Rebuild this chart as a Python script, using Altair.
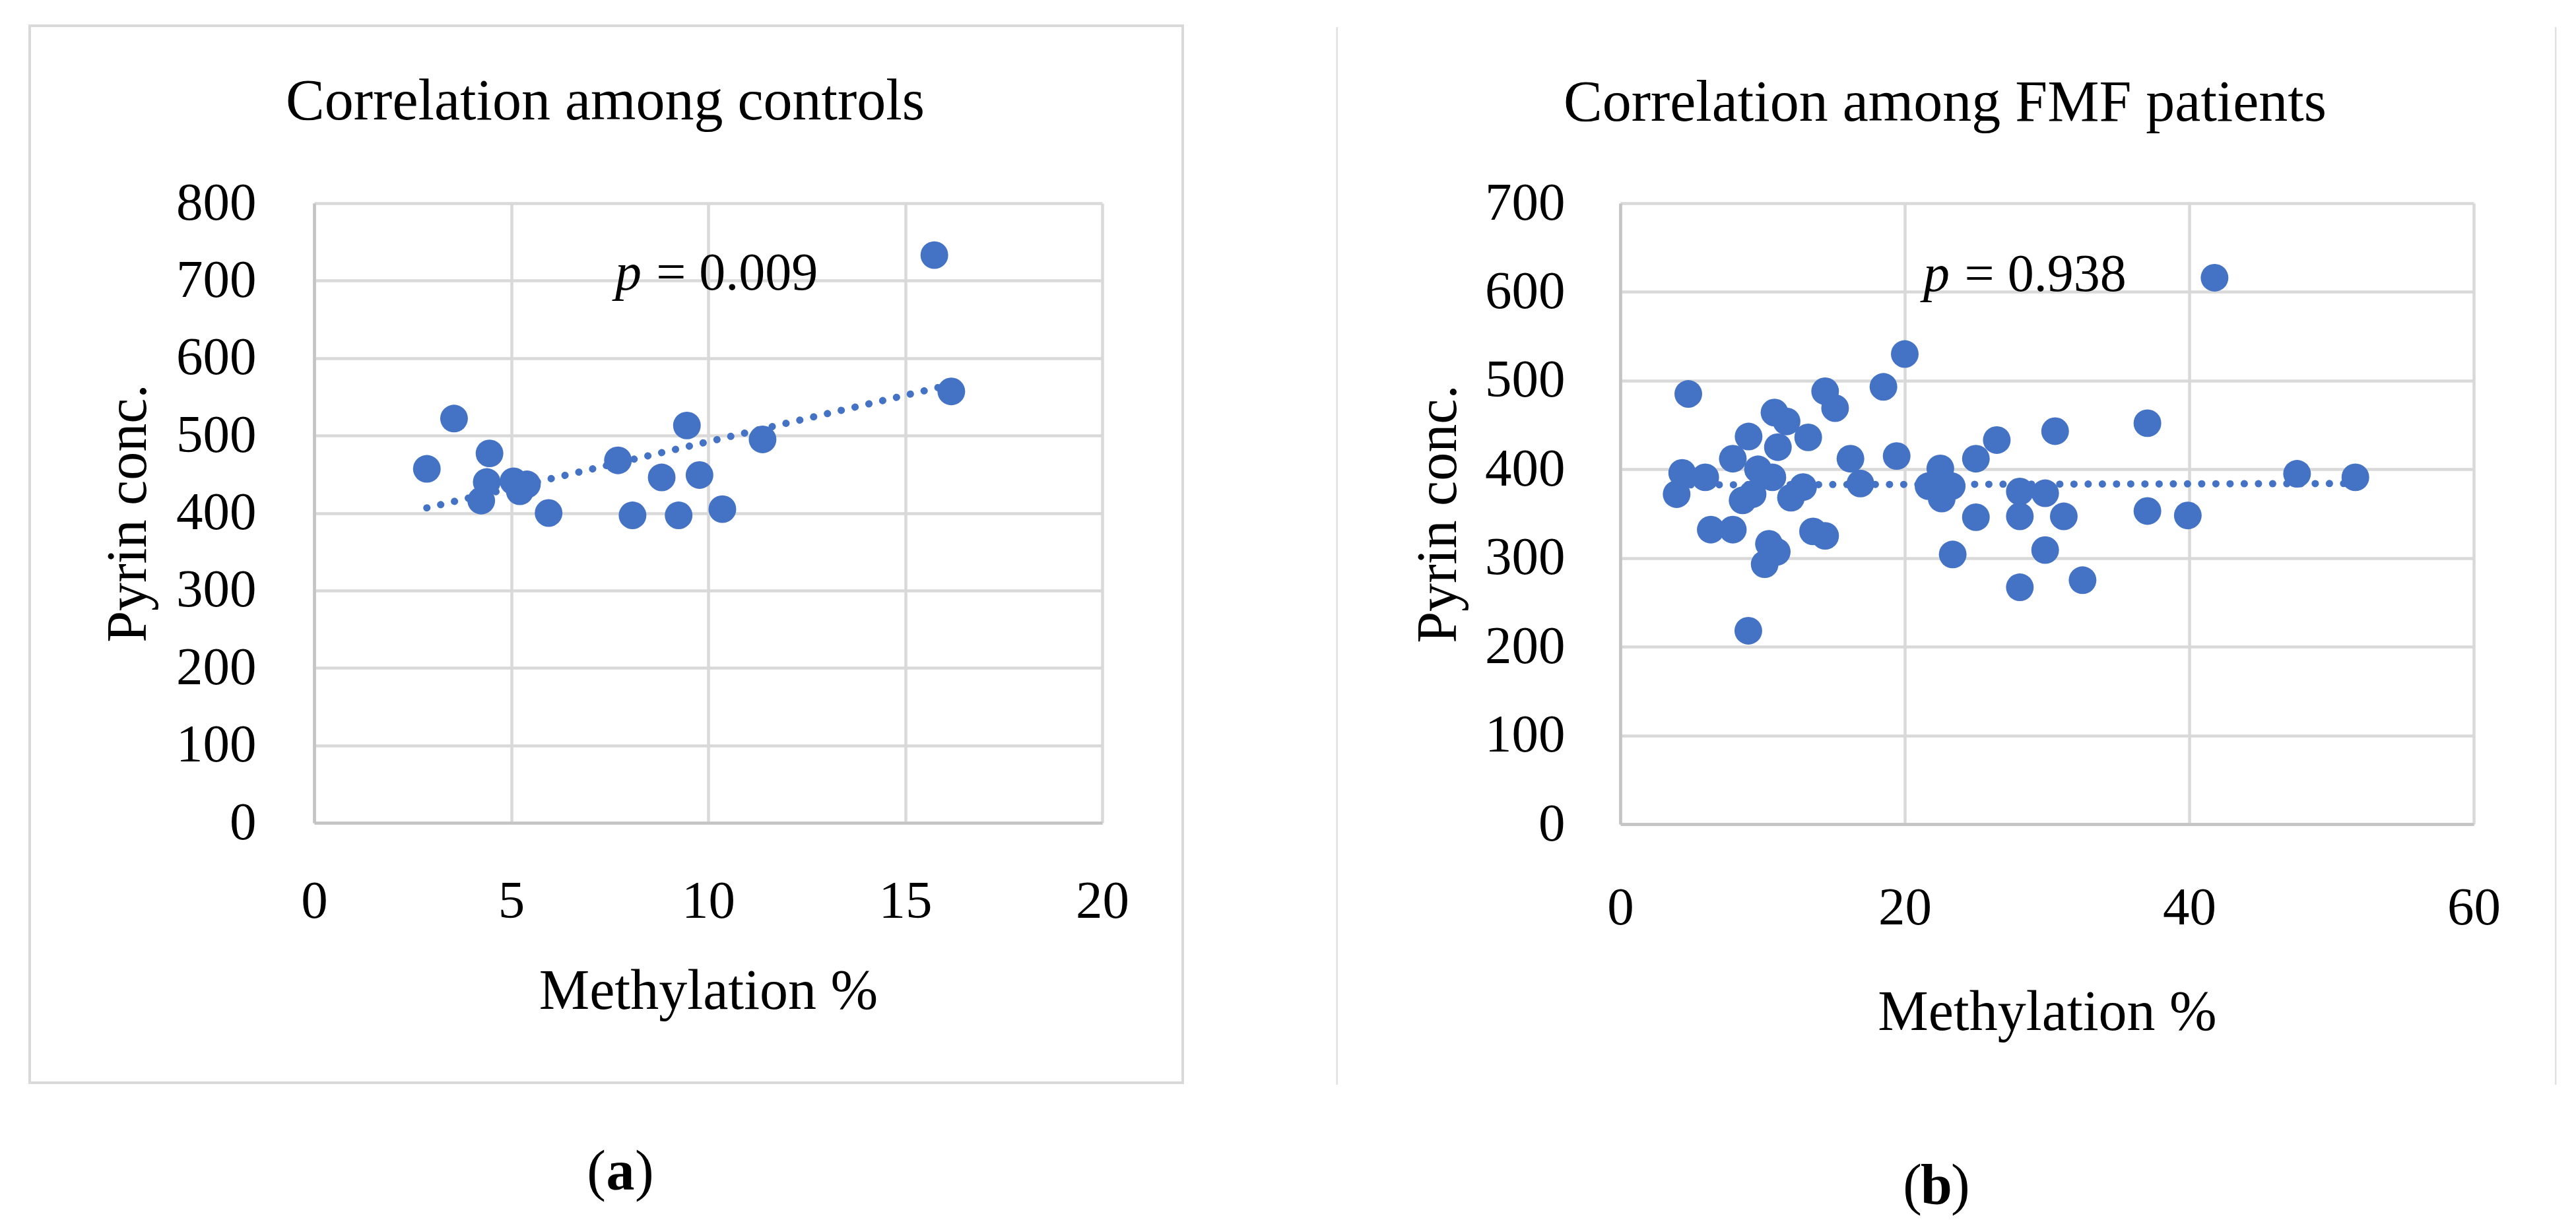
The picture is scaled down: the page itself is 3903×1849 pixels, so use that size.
import altair as alt
import pandas as pd

# ---------------- data ----------------
# (a) controls
ctrl_methylation = [2.86, 3.55, 4.45, 4.38, 4.24, 5.06, 5.22, 5.40, 5.95, 7.71,
                    8.08, 8.82, 9.46, 9.78, 9.25, 10.36, 11.38, 15.74, 16.17]
ctrl_pyrin = [457, 522, 477, 440, 416, 441, 428, 437, 400, 468,
              397, 446, 513, 449, 397, 405, 495, 733, 557]
ctrl_trend_x = [2.86, 16.17]
ctrl_trend_y = [406.6, 566.0]

# (b) FMF patients
fmf_methylation = [3.96, 4.35, 4.78, 5.97, 6.36, 7.91, 7.91, 9.02, 9.68, 10.69,
                   8.6, 9.3, 9.0, 10.15, 10.45, 11.0, 10.84, 11.69, 11.08, 12.0,
                   12.85, 13.21, 13.55, 14.4, 14.4, 15.1, 16.18, 16.88, 18.5, 19.43,
                   20.0, 21.67, 22.5, 22.5, 23.3, 22.6, 23.37, 25.0, 25.0, 26.47,
                   28.09, 28.09, 28.09, 29.87, 29.87, 31.18, 30.57, 32.5, 37.06, 37.06,
                   39.9, 41.78, 47.58, 51.68]
fmf_pyrin = [372, 396, 485, 391, 332, 332, 412, 437, 400, 391,
             365, 372, 218, 293, 316, 307, 464, 454, 425, 368,
             380, 436, 330, 325, 488, 469, 412, 384, 493, 415,
             530, 381, 401, 388, 381, 367, 304, 412, 346, 433,
             375, 347, 267, 373, 309, 347, 443, 275, 452, 353,
             348, 616, 395, 391]
fmf_trend_x = [3.96, 51.68]
fmf_trend_y = [382.5, 384.0]

x_ticks_a = [0, 5, 10, 15, 20]
y_ticks_a = [0, 100, 200, 300, 400, 500, 600, 700, 800]
x_ticks_b = [0, 20, 40, 60]
y_ticks_b = [0, 100, 200, 300, 400, 500, 600, 700]

title_a = "Correlation among controls"
title_b = "Correlation among FMF patients"
p_text_a = "= 0.009"
p_text_b = "= 0.938"
x_title = "Methylation %"
y_title = "Pyrin conc."

# ---------------- styling ----------------
BLUE = "#4472C4"
FONT = "Liberation Serif"
ONE = alt.Data(values=[{}])


def text_layer(txt, x, y, size, align="center", weight="normal", style="normal"):
    return alt.Chart(ONE).mark_text(
        text=txt, font=FONT, fontSize=size, align=align, baseline="alphabetic",
        fontWeight=weight, fontStyle=style, color="black"
    ).encode(x=alt.value(x), y=alt.value(y))


def make_panel(meth, pyr, trx, tr_y, xticks, yticks, W, H,
               ttl, ttl_cx, ttl_by, ptxt, p_x, eq_x, p_y,
               letter, let_cx, let_by, xlab_pad, ylab_pad,
               xtitle_y, ytitle_x, frame, guard_y):
    xscale = alt.Scale(domain=[xticks[0], xticks[-1]], nice=False, zero=False)
    yscale = alt.Scale(domain=[yticks[0], yticks[-1]], nice=False)
    xaxis = alt.Axis(values=xticks, format="d", title=x_title, grid=True, ticks=False,
                     labelFlush=False, labelOverlap=False, labelPadding=xlab_pad,
                     titleX=W / 2, titleY=xtitle_y, titleAlign="center",
                     titleBaseline="alphabetic")
    yaxis = alt.Axis(values=yticks, format="d", title=y_title, grid=True, ticks=False,
                     labelOverlap=False, labelPadding=ylab_pad,
                     titleX=ytitle_x, titleY=H / 2, titleAngle=270,
                     titleAlign="center", titleBaseline="alphabetic")

    pts = pd.DataFrame({"m": meth, "p": pyr})
    trd = pd.DataFrame({"m": trx, "p": tr_y})

    trend = alt.Chart(trd).mark_line(
        color=BLUE, strokeWidth=11, strokeDash=[0.1, 21.4], strokeCap="round"
    ).encode(x=alt.X("m:Q", scale=xscale, axis=xaxis),
             y=alt.Y("p:Q", scale=yscale, axis=yaxis))

    points = alt.Chart(pts).mark_circle(size=1760, color=BLUE, opacity=1).encode(
        x=alt.X("m:Q", scale=xscale, axis=xaxis),
        y=alt.Y("p:Q", scale=yscale, axis=yaxis))

    p_italic = alt.Chart(ONE).mark_text(
        text="p", font=FONT, fontSize=80, fontStyle="italic", align="left",
        baseline="alphabetic", color="black"
    ).encode(x=alt.datum(p_x), y=alt.datum(p_y))
    p_rest = alt.Chart(ONE).mark_text(
        text=ptxt, font=FONT, fontSize=80, align="left",
        baseline="alphabetic", color="black"
    ).encode(x=alt.datum(eq_x), y=alt.datum(p_y))

    guard = alt.Chart(ONE).mark_rule(opacity=0, strokeWidth=1).encode(
        x=alt.value(0), x2=alt.value(10), y=alt.value(guard_y))

    layers = frame + [
        guard, trend, points, p_italic, p_rest,
        text_layer(ttl, ttl_cx, ttl_by, 88),
        text_layer("(", let_cx - 22, let_by, 86, align="right"),
        text_layer(letter, let_cx, let_by, 86, weight="bold"),
        text_layer(")", let_cx + 22, let_by, 86, align="left"),
    ]
    return alt.layer(*layers).properties(width=W, height=H)


# frame of panel (a): full light-gray box
frame_a = [alt.Chart(ONE).mark_rect(
    fillOpacity=0, stroke="#d9d9d9", strokeWidth=4
).encode(x=alt.value(-431), x2=alt.value(1316), y=alt.value(-269), y2=alt.value(1333))]

# frame of panel (b): two thin vertical lines
frame_b = [
    alt.Chart(ONE).mark_rule(color="#e0e0e0", strokeWidth=2.5).encode(
        x=alt.value(-429.3), y=alt.value(-267), y2=alt.value(1336)),
    alt.Chart(ONE).mark_rule(color="#e0e0e0", strokeWidth=2.5).encode(
        x=alt.value(1417.2), y=alt.value(-267), y2=alt.value(1336)),
]

panel_a = make_panel(ctrl_methylation, ctrl_pyrin, ctrl_trend_x, ctrl_trend_y,
                     x_ticks_a, y_ticks_a, 1194, 939,
                     title_a, 441, -127, p_text_a, 7.64, 8.68, 688,
                     "a", 464, 1495, 79, 88, 281, -256, frame_a, -294)

panel_b = make_panel(fmf_methylation, fmf_pyrin, fmf_trend_x, fmf_trend_y,
                     x_ticks_b, y_ticks_b, 1293, 941,
                     title_b, 492, -125, p_text_b, 21.3, 24.2, 601,
                     "b", 479, 1516, 87, 84, 311, -250, frame_b, -272)

chart = alt.concat(panel_a, panel_b, columns=2, spacing=228, align="none",
                   bounds="full").properties(
    padding={"left": 34, "top": 5, "right": 5, "bottom": 5},
    background="white",
).configure_view(stroke="transparent").configure_axis(
    domainColor="#c4c4c4", domainWidth=4.5,
    gridColor="#d9d9d9", gridWidth=4.5,
    labelFont=FONT, labelFontSize=81, labelColor="black",
    titleFont=FONT, titleFontSize=86, titleFontWeight="normal", titleColor="black",
)

chart.save("out.html", embed_options={"renderer": "svg", "actions": False})
